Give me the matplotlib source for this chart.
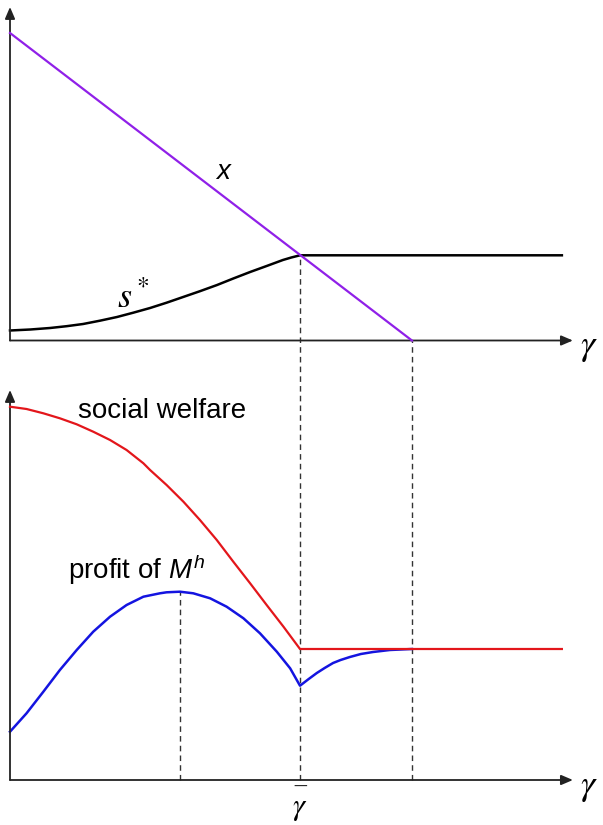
import numpy as np
import matplotlib.pyplot as plt

plt.rcParams['font.family'] = ['Liberation Sans', 'DejaVu Sans']
plt.rcParams['mathtext.fontset'] = 'custom'
plt.rcParams['mathtext.it'] = 'Liberation Sans:italic'
plt.rcParams['mathtext.rm'] = 'Liberation Sans'

# gamma axis: gamma_bar = 1, x hits zero at gamma_max
gamma_bar = 1.0
gamma_max = 1.386
gamma_end = 1.903

# top panel: x (linear) and s*
x_gamma = [0.0, gamma_max]
x_vals = [3.075, 0.0]

s_gamma = [0.0, 0.07, 0.138, 0.195, 0.252, 0.31, 0.369, 0.425, 0.483, 0.54, 0.597,
           0.655, 0.714, 0.77, 0.828, 0.885, 0.941, 0.97, 1.0, gamma_end]
s_vals = [0.10, 0.11, 0.125, 0.143, 0.165, 0.198, 0.235, 0.278, 0.325, 0.378, 0.435,
          0.493, 0.555, 0.62, 0.685, 0.745, 0.805, 0.83, 0.852, 0.852]

# bottom panel: social welfare and profit of M^h
sw_gamma = [0.0, 0.057, 0.115, 0.172, 0.23, 0.287, 0.345, 0.402, 0.46, 0.483, 0.54,
            0.598, 0.655, 0.713, 0.77, 0.828, 0.885, 0.943, 1.0, gamma_end]
sw_vals = [3.733, 3.71, 3.667, 3.617, 3.557, 3.483, 3.40, 3.30, 3.167, 3.10, 2.95,
           2.783, 2.60, 2.40, 2.183, 1.967, 1.75, 1.533, 1.31, 1.31]

pr_gamma = [0.0, 0.057, 0.115, 0.172, 0.23, 0.287, 0.345, 0.402, 0.46, 0.517, 0.54,
            0.586, 0.632, 0.69, 0.747, 0.805, 0.862, 0.92, 0.966, 1.0,
            1.03, 1.058, 1.085, 1.114, 1.14, 1.172, 1.21, 1.252, 1.31, gamma_max]
pr_vals = [0.483, 0.667, 0.883, 1.10, 1.30, 1.483, 1.633, 1.75, 1.833, 1.867, 1.877,
           1.883, 1.867, 1.817, 1.733, 1.617, 1.467, 1.283, 1.117, 0.943,
           1.01, 1.07, 1.12, 1.17, 1.20, 1.23, 1.26, 1.28, 1.30, 1.31]
pr_peak = 0.586

top = 4.395  # vertical offset of the upper panel

fig = plt.figure(figsize=(6.03, 8.25), dpi=100)
ax = fig.add_axes([0, 0, 1, 1])
ax.set_xlim(-10 / 290, 593 / 290)
ax.set_ylim(-0.45, 7.80)
ax.axis('off')

axis_kw = dict(arrowstyle='-|>,head_length=0.7,head_width=0.3', color='#222222', lw=1.3,
               shrinkA=0, shrinkB=0)
x_tip = 1.941
for base, ytip in [(top, 7.73), (0.0, 3.90)]:
    ax.annotate('', xy=(x_tip, base), xytext=(0, base), arrowprops=axis_kw)
    ax.annotate('', xy=(0, ytip), xytext=(0, base), arrowprops=axis_kw)

# curves
ax.plot(x_gamma, np.array(x_vals) + top, color='#9020E8', lw=1.6, zorder=3)
ax.plot(s_gamma, np.array(s_vals) + top, color='black', lw=1.8, zorder=2)
ax.plot(sw_gamma, sw_vals, color='#E3161B', lw=1.6, zorder=3)
ax.plot(pr_gamma, pr_vals, color='#1414E0', lw=1.8, zorder=2)

# dashed guides
dash = dict(color='#333333', lw=1.0, ls=(0, (4, 3)), zorder=1)
ax.plot([gamma_bar, gamma_bar], [0, s_vals[-1] + top], **dash)
ax.plot([gamma_max, gamma_max], [0, top], **dash)
ax.plot([pr_peak, pr_peak], [0, max(pr_vals)], **dash)

# labels
ax.text(0.735, 6.08, 'x', fontsize=20, style='italic', ha='center', va='center')
ax.text(0.425, 4.82, r'$s^*$', fontsize=26, ha='center', va='center', math_fontfamily='stix')
ax.text(0.524, 3.69, 'social welfare', fontsize=20, ha='center', va='center')
ax.text(0.438, 2.10, r'profit of $M^h$', fontsize=20, ha='center', va='center')
for base in [top, 0.0]:
    ax.text(1.995, base - 0.06, r'$\gamma$', fontsize=26, ha='center', va='center',
            math_fontfamily='stix')
ax.text(gamma_bar, -0.065, '\u2014', fontsize=10, color='#222222', ha='center', va='center',
        family='DejaVu Sans')
ax.text(gamma_bar, -0.28, r'$\gamma$', fontsize=22, ha='center', va='center',
        math_fontfamily='stix')

fig.savefig('out.png', dpi=100)
